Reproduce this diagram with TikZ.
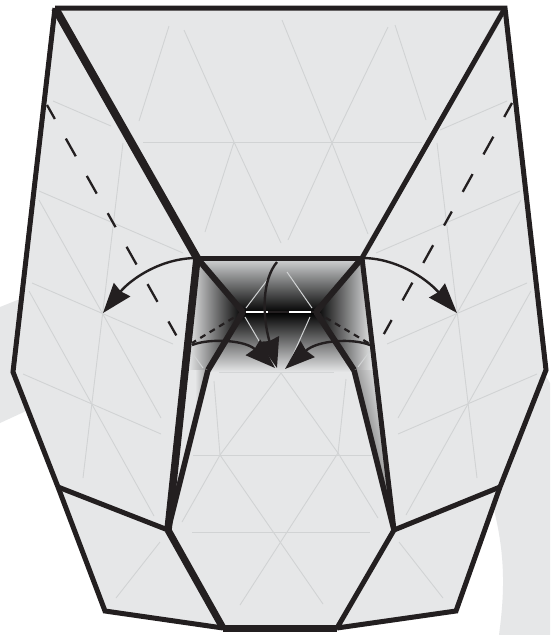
\documentclass[tikz,border=0pt]{standalone}
\usetikzlibrary{arrows.meta}
\definecolor{paper}{HTML}{E6E7E8}
\definecolor{ink}{HTML}{231F20}
\definecolor{gridc}{HTML}{D1D3D4}
\definecolor{midg}{HTML}{999999}
\tikzset{x=1pt,y=-1pt,
 edge/.style={draw=ink,line width=5pt,line join=miter,miter limit=4},
 wide edge/.style={draw=ink,line width=7pt,line join=miter,miter limit=4},
 gridline/.style={draw=gridc,line width=0.9pt},
 overlay line/.style={draw=gridc,line width=1pt},
 fold/.style={draw=ink,line width=2.3pt},
 hiddenfold/.style={draw=ink,line width=2.2pt,dash pattern=on 6pt off 5pt},
 move/.style={draw=ink,line width=2.4pt,-{Stealth[length=30pt,width=21pt,inset=2pt]}}}
\begin{document}
\begin{tikzpicture}
\useasboundingbox (0,0) rectangle (550,635);
\fill[white] (0,0) rectangle (550,635);
% background swoosh
\fill[paper] (0,307) -- (40,291) -- (50,400) -- (0,423) -- cycle;
\fill[paper] (530,360) -- (547,378) -- (550,383) -- (550,635) -- (499,635) .. controls (505,590) and (506,550) .. (490,495) -- cycle;
% outline points
\coordinate (TL) at (55,8); \coordinate (TR) at (505,8);
\coordinate (L) at (13,372); \coordinate (R) at (546,370);
\coordinate (LK) at (58,487); \coordinate (RK) at (500,487);
\coordinate (LB) at (105,611); \coordinate (RB) at (456,611);
\coordinate (BL) at (223,628); \coordinate (BR) at (337,628);
\coordinate (CL) at (168,530); \coordinate (CR) at (394,530);
\coordinate (SL) at (197,258); \coordinate (SR) at (362,258);
\coordinate (ML) at (243,312); \coordinate (MR) at (316,312);
\coordinate (DL) at (208,370); \coordinate (DR) at (354,370);
\coordinate (TipL) at (103,313); \coordinate (TipR) at (457,313);
\coordinate (TipC) at (277,368); \coordinate (TipA) at (275,368); \coordinate (TipB) at (285,369);
\fill[paper] (TL) -- (TR) -- (R) -- (RK) -- (RB) -- (BR) -- (BL) -- (LB) -- (LK) -- (L) -- cycle;
% precrease grid
\begin{scope}[gridline]
\draw (169,26) -- (139,121);
\draw (184,30) -- (234,142) -- (281,243);
\draw (234,142) -- (205,232);
\draw (143,142) -- (422,142);
\draw (282,20) -- (332,143) -- (368,234);
\draw (388,27) -- (332,143) -- (288,240);
\draw (395,25) -- (426,120);
\draw (53,101) -- (111,126);
\draw (123,143) -- (83,478);
\draw (39,191) -- (183,253);
\draw (39,200) -- (161,418);
\draw (32,283) -- (173,344);
\draw (29,291) -- (154,516);
\draw (23,374) -- (161,434);
\draw (160,542) -- (116,598);
\draw (507,101) -- (440,130);
\draw (437,143) -- (477,478);
\draw (520,191) -- (376,253);
\draw (521,200) -- (398,418);
\draw (527,283) -- (387,344);
\draw (531,291) -- (406,515);
\draw (537,374) -- (398,434);
\draw (399,542) -- (443,598);
\draw (219,372) -- (334,372);
\draw (193,455) -- (372,455);
\draw (192,532) -- (370,532);
\draw (214,381) -- (220,455);
\draw (346,379) -- (338,453);
\draw (281,373) -- (220,455) -- (182,522);
\draw (281,373) -- (338,453) -- (378,518);
\draw (220,455) -- (323,604);
\draw (338,453) -- (240,605);
\end{scope}
% shaded pleats
\begin{scope}
\clip (SL) -- (SR) -- (MR) -- (ML) -- cycle;
\shade[top color=gridc,bottom color=black] (190,259) rectangle (370,313);
\end{scope}
\begin{scope}
\clip (ML) -- (MR) -- (DR) -- (354,372) -- (208,372) -- (DL) -- cycle;
\shade[top color=black,bottom color=paper] (200,312) rectangle (360,372);
\end{scope}
\begin{scope}
\clip (SL) -- (ML) -- (DL) -- (185,370) -- cycle;
\shade[left color=paper,right color=black] (188,250) rectangle (243,375);
\end{scope}
\begin{scope}
\clip (SR) -- (MR) -- (DR) -- (375,370) -- cycle;
\shade[right color=paper,left color=black] (316,250) rectangle (373,375);
\end{scope}
\begin{scope}
\clip (DL) -- (CL) -- (185,370) -- cycle;
\shade[left color=paper,right color=midg] (195,369) rectangle (208,532);
\fill[paper] (160,369) rectangle (195,532);
\end{scope}
\begin{scope}
\clip (DR) -- (CR) -- (375,370) -- cycle;
\begin{scope}[transform canvas={xslant=-0.25}]
\shade[left color=midg,right color=paper] (261.5,369) rectangle (285.5,532);
\end{scope}
\end{scope}
% lines over the shading
\begin{scope}[overlay line]
\draw (268,279) -- (246,308);
\draw (287,272) -- (312,308);
\draw (245,317) -- (275,368);
\draw (310,317) -- (288,366);
\draw (190,350) -- (203,368);
\draw (373,347) -- (358,367);
\end{scope}
\draw[draw=ink,line width=2.6pt] (ML) -- (MR);
\draw[draw=white,line width=2.6pt] (246,312) -- (268,312);
\draw[draw=white,line width=2.6pt] (289,312) -- (311,312);
% fold lines
\draw[fold,dash pattern=on 16pt off 22.5pt on 20.3pt off 22.5pt on 20.3pt off 22.5pt] (47,105) -- (180,342);
\draw[fold,dash pattern=on 16pt off 22.5pt on 20.3pt off 22.5pt on 20.3pt off 22.5pt] (512,103) -- (380,341);
\draw[hiddenfold] (ML) -- (192,343);
\draw[hiddenfold] (MR) -- (370,344);
% outline and pleat edges
\draw[edge] (SL) -- (SR);
\draw[edge] (TL) -- (TR) -- (R) -- (RK) -- (RB) -- (BR);
\draw[edge] (TL) -- (L) -- (LK) -- (LB) -- (BL);
\draw[wide edge] (BL) -- (BR);
\draw[wide edge] (CL) -- (BL);
\draw[edge] (CR) -- (BR);
\draw[wide edge,line width=8pt] (TL) -- (SL);
\draw[edge] (TR) -- (SR);
\draw[edge] (LK) -- (CL);
\draw[edge] (RK) -- (CR);
\draw[wide edge,line width=7.5pt] (SL) -- (CL);
\draw[edge] (SR) -- (CR);
\draw[edge,line width=6pt] (SL) -- (ML);
\draw[edge,line width=6pt] (SR) -- (MR);
\draw[edge,line width=6pt] (ML) -- (DL);
\draw[edge,line width=6pt] (MR) -- (DR);
\draw[edge,line width=5.5pt] (DL) -- (CL);
\draw[edge,line width=5.5pt] (DR) -- (CR);
% move arrows
\draw[move] (SL) .. controls (160,258) and (130,280) .. (TipL);
\draw[move] (SR) .. controls (395,258) and (425,277) .. (TipR);
\draw[move] (277,262) .. controls (262,280) and (262,315) .. (TipC);
\draw[move] (192,345) .. controls (210,338) and (245,340) .. (TipA);
\draw[move] (370,345) .. controls (352,338) and (318,340) .. (TipB);
\end{tikzpicture}
\end{document}
